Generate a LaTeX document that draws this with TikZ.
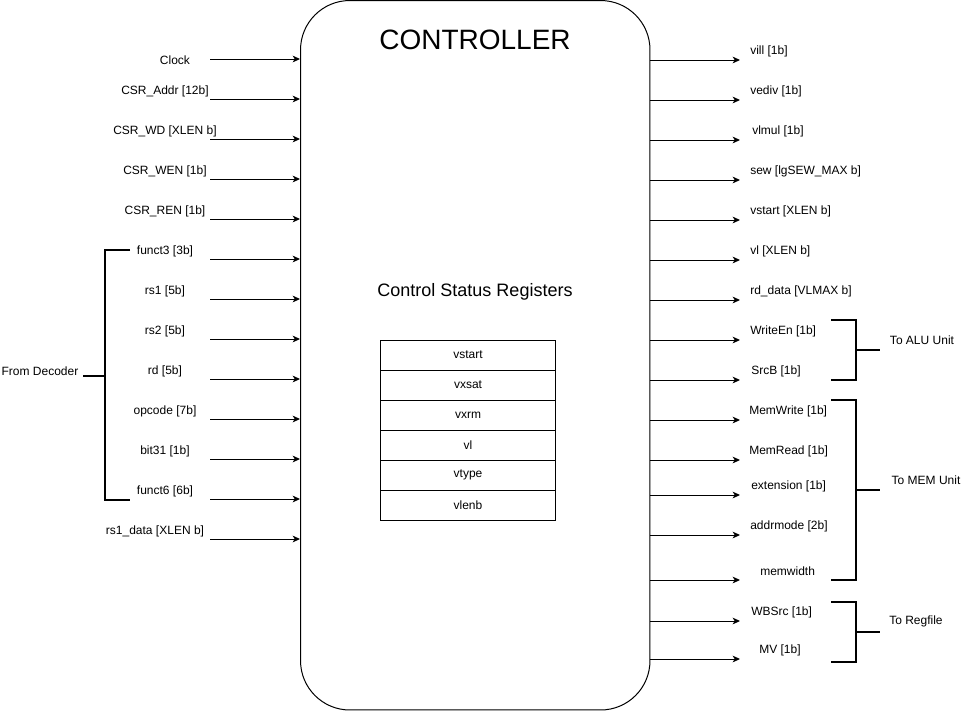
\documentclass[tikz,border=0pt]{standalone}
\usepackage{fontspec}
\setmainfont{Liberation Sans}
\usetikzlibrary{positioning}
\usetikzlibrary{arrows.meta}
\tikzset{
  every node/.append style={font=\fontsize{9}{11}\selectfont},
  sig/.style={-{Stealth[length=5.5pt,width=5pt,inset=1.5pt]},line width=0.75pt},
  bracket/.style={line width=1.5pt},
  block/.style={rectangle,draw,line width=0.75pt,rounded corners=37pt,
    minimum width=262.1pt,minimum height=532.1pt},
  reg/.style={rectangle,draw,line width=0.75pt,outer sep=0pt,node distance=0pt,
    minimum width=131.25pt,minimum height=22.5pt},
  pin/.style={inner sep=0pt,anchor=west}
}

\begin{document}
\begin{tikzpicture}[x=0.75pt,y=-0.75pt]
  \useasboundingbox (0,0) rectangle (967,711);
  \node (ctrl) [block] at (475.25,355.25) {};
  \node (title) at (475,40) {\fontsize{21}{25}\selectfont CONTROLLER};
  \node (csr) at (475,292) {\fontsize{13.5}{16}\selectfont Control Status Registers};
  % register file
  \node (r1) [reg] at (468,355) {vstart};
  \node (r2) [reg,below=of r1] {vxsat};
  \node (r3) [reg,below=of r2] {vxrm};
  \node (r4) [reg,below=of r3] {vl};
  \node (r5) [reg,below=of r4] {vtype};
  \node (r6) [reg,below=of r5] {vlenb};
  % inputs
  \foreach \i/\y/\x/\dy/\t in {0/59/175/1/{Clock},
      1/99/165/-8/{CSR\_Addr [12b]}, 2/139/165/-8/{CSR\_WD [XLEN b]},
      3/179/165/-8/{CSR\_WEN [1b]}, 4/219/165/-8/{CSR\_REN [1b]},
      5/259/165/-8/{funct3 [3b]}, 6/299/165/-8/{rs1 [5b]},
      7/339/165/-8/{rs2 [5b]}, 8/379/165/-8/{rd [5b]},
      9/419/165/-8/{opcode [7b]}, 10/459/165/-8/{bit31 [1b]},
      11/499/165/-8/{funct6 [6b]}, 12/539/155/-8/{rs1\_data [XLEN b]}} {
    \coordinate (in\i) at (210,\y);
    \node (inl\i) at (\x,\y+\dy) {\t};
    \draw[sig] (in\i) -- (in\i -| ctrl.west);
  }
  % outputs
  \foreach \i/\y/\x/\t in {1/60/750/{vill [1b]}, 2/100/750/{vediv [1b]},
      3/140/752/{vlmul [1b]}, 4/180/750/{sew [lgSEW\_MAX b]},
      5/220/750/{vstart [XLEN b]}, 6/260/750/{vl [XLEN b]},
      7/300/750/{rd\_data [VLMAX b]}, 8/340/750/{WriteEn [1b]},
      9/380/751/{SrcB [1b]}, 10/420/749/{MemWrite [1b]},
      11/460/749/{MemRead [1b]}, 12/495/751/{extension [1b]},
      13/535/750/{addrmode [2b]}, 14/580/760/{memwidth},
      15/621/751/{WBSrc [1b]}, 16/659/759/{MV [1b]}} {
    \coordinate (out\i) at (740,\y);
    \node (outl\i) [pin] at (\x,\y-9) {\t};
    \draw[sig] (out\i -| ctrl.east) -- (out\i);
  }
  % groups
  \node (dec) at (40,371) {From Decoder};
  \coordinate (dmid) at (105,376);
  \draw[bracket] (130,250) -| (105,500) -- (130,500);
  \draw[bracket] (dec.east |- dmid) -- (dmid);
  \node (alu) at (922,340) {To ALU Unit};
  \draw[bracket] (831,320) -| (856,380) -- (831,380);
  \draw[bracket] (856,350) -- (880,350);
  \node (mem) at (926,480) {To MEM Unit};
  \draw[bracket] (831,400) -| (856,580) -- (831,580);
  \draw[bracket] (856,490) -- (880,490);
  \node (rf) at (916,621) {To Regfile};
  \draw[bracket] (831,602) -| (856,662) -- (831,662);
  \draw[bracket] (856,632) -- (880,632);
\end{tikzpicture}
\end{document}
